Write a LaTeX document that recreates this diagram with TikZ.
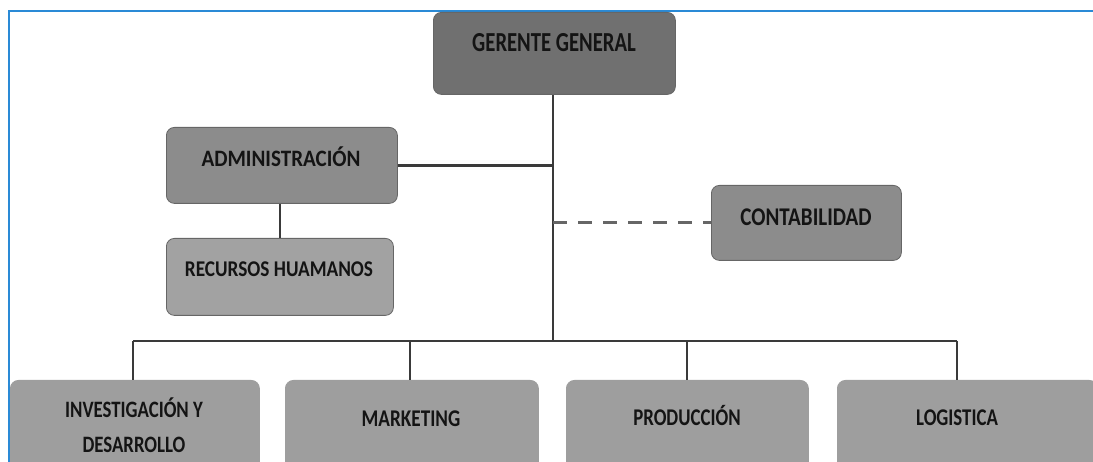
\documentclass[tikz,border=0pt]{standalone}
\usepackage{fontspec}
\setmainfont{Carlito}
\newfontfamily\cf[FakeStretch=0.8]{Carlito Bold}
\newcommand\lab[3]{\scalebox{#2}[1]{\cf\fontsize{#1}{35}\selectfont\begin{tabular}{@{}c@{}}#3\end{tabular}}}
\definecolor{frameblue}{RGB}{42,138,214}
\definecolor{gtop}{RGB}{112,112,112}
\definecolor{gmid}{RGB}{140,140,140}
\definecolor{glight}{RGB}{162,162,162}
\definecolor{gbot}{RGB}{158,158,158}
\definecolor{lne}{RGB}{58,58,58}
\begin{document}
\begin{tikzpicture}[x=1pt,y=-1pt,
  box/.style={rectangle, rounded corners=8pt, draw=black!60, line width=0.8pt, inner sep=0pt, anchor=north west},
  lbl/.style={inner sep=0pt, align=center, text=black!92},
  conn/.style={draw=lne, line width=2.8pt},
  dconn/.style={draw=black!60, line width=2.8pt, dash pattern=on 14pt off 11pt}]
\useasboundingbox (0,0) rectangle (1093,462);
\clip (0,0) rectangle (1093,462);
% frame
\draw[frameblue, line width=2pt] (1100,11) -- (9,11) -- (9,470);
% boxes
\node[box, fill=gtop, minimum width=242pt, minimum height=82pt] (g) at (433,12) {};
\node[box, fill=gmid, minimum width=231pt, minimum height=76pt] (adm) at (166,127) {};
\node[box, fill=glight, minimum width=227pt, minimum height=77pt] (rh) at (166,238) {};
\node[box, fill=gmid, minimum width=190pt, minimum height=75pt] (cont) at (711,185) {};
\node[box, fill=gbot, draw=gbot, minimum width=249pt, minimum height=110pt] (inv) at (10,380) {};
\node[box, fill=gbot, draw=gbot, minimum width=253pt, minimum height=110pt] (mkt) at (285,380) {};
\node[box, fill=gbot, draw=gbot, minimum width=242pt, minimum height=110pt] (prod) at (566,380) {};
\node[box, fill=gbot, draw=gbot, minimum width=260pt, minimum height=110pt] (log) at (837,380) {};
% labels
\node[lbl] (gt) at (554,45) {\lab{27.5}{0.94}{GERENTE GENERAL}};
\node[lbl] (admt) at (281,160) {\lab{23.5}{1.12}{ADMINISTRACIÓN}};
\node[lbl] (rht) at (279,270) {\lab{22.5}{1.07}{RECURSOS HUAMANOS}};
\node[lbl] (contt) at (806,219) {\lab{25.5}{1.03}{CONTABILIDAD}};
\node[lbl] (invt) at (134,428) {\lab{23.5}{1.0}{INVESTIGACIÓN Y\\DESARROLLO}};
\node[lbl] (mktt) at (411,419) {\lab{24}{1.0}{MARKETING}};
\node[lbl] (prodt) at (687,418) {\lab{24}{0.98}{PRODUCCIÓN}};
\node[lbl] (logt) at (957,418) {\lab{24}{0.98}{LOGISTICA}};
% connectors
\coordinate (busL) at (133,341);
\coordinate (busR) at (957,341);
\coordinate (trunk) at (553,341);
\draw[conn] (g.south -| trunk) -- (trunk);
\draw[conn] (busL) -- (busR);
\draw[conn] (adm.east) -- (adm.east -| trunk);
\draw[conn] (adm.south -| rh.north) -- (rh.north);
\draw[dconn] (cont.west -| trunk) -- (cont.west);
\draw[conn] (busL) -- (busL |- inv.north);
\draw[conn] (410,341) coordinate (mktd) -- (mktd |- mkt.north);
\draw[conn] (687,341) coordinate (prodd) -- (prodd |- prod.north);
\draw[conn] (busR) -- (busR |- log.north);
\end{tikzpicture}
\end{document}
